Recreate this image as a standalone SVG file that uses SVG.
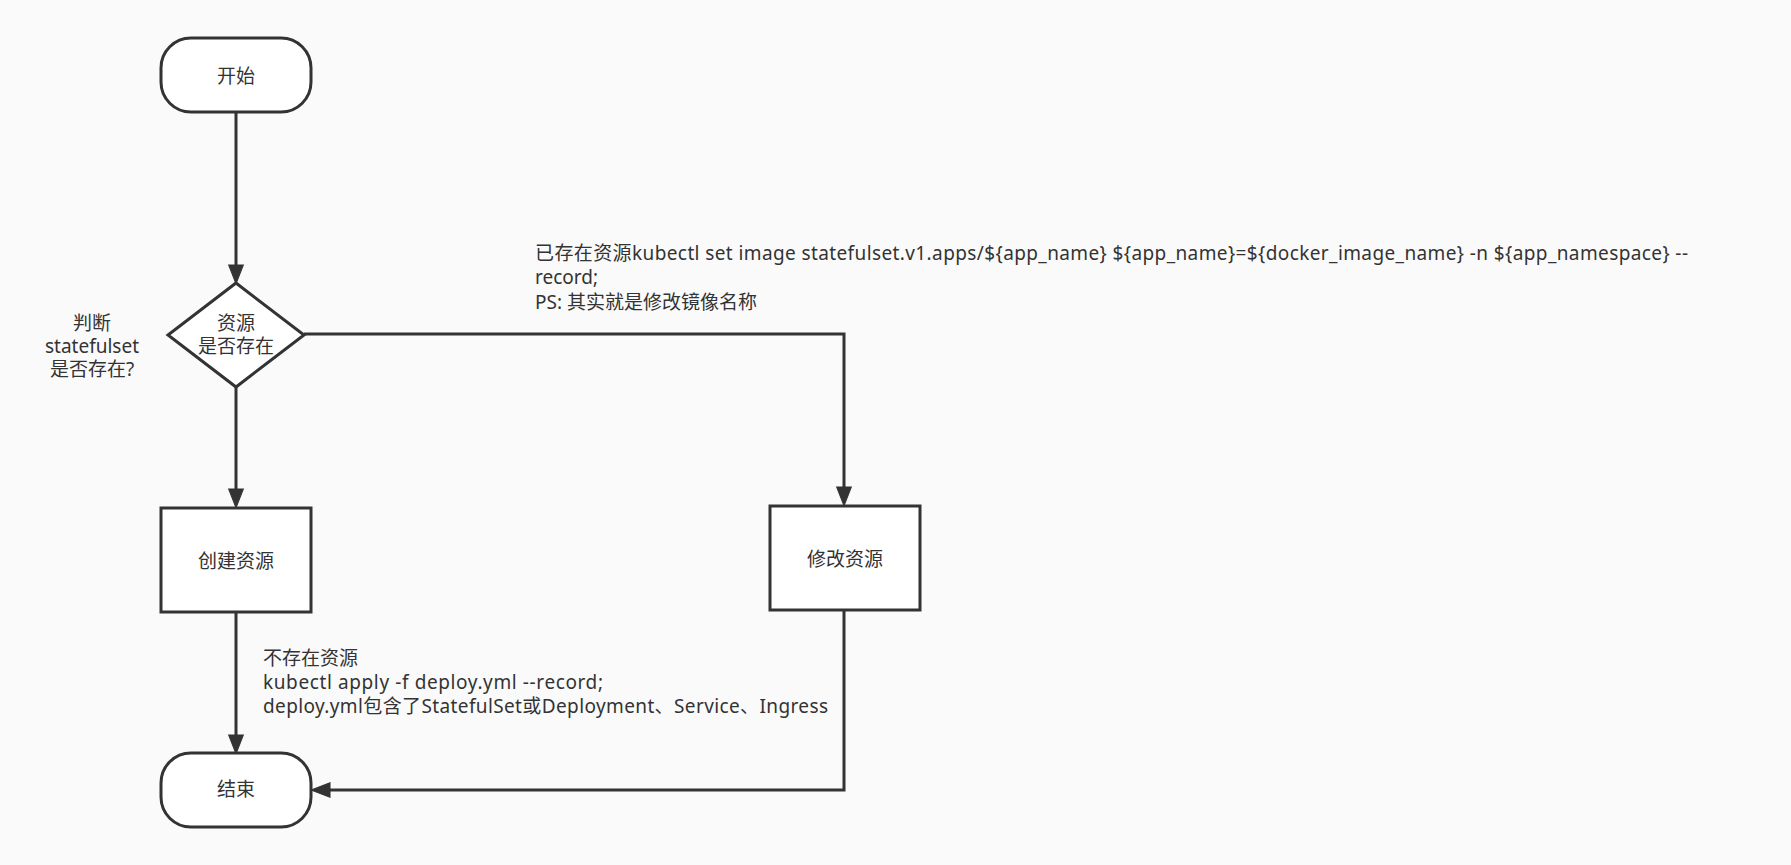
<svg xmlns="http://www.w3.org/2000/svg" width="1791" height="865" viewBox="0 0 1791 865">
<style>
.bg{fill:#fafafa}
.node{fill:#ffffff;stroke:#333333;stroke-width:3}
.edge{fill:none;stroke:#333333;stroke-width:3}
.lbl{font-family:"Noto Sans","Noto Sans CJK SC",sans-serif;font-size:19px;fill:#333333}
.c{text-anchor:middle;dominant-baseline:central}
.l{dominant-baseline:central}
</style>
<defs>
<marker id="arr" markerUnits="userSpaceOnUse" markerWidth="22" markerHeight="18" viewBox="-1 -8 21 16" refX="0" refY="0" orient="auto">
<path d="M0,-7 L18,0 L0,7 Z" fill="#333333" stroke="#333333" stroke-width="1"/>
</marker>
</defs>
<rect class="bg" x="0" y="0" width="1791" height="865"/>
<g id="edges">
<path class="edge" d="M236,112 L236,265" marker-end="url(#arr)"/>
<path class="edge" d="M236,387 L236,489" marker-end="url(#arr)"/>
<path class="edge" d="M304,334 L844,334 L844,487" marker-end="url(#arr)"/>
<path class="edge" d="M236,613 L236,735" marker-end="url(#arr)"/>
<path class="edge" d="M844,611 L844,790 L330,790" marker-end="url(#arr)"/>
</g>
<g id="start">
<rect class="node" x="161" y="38" width="150" height="74" rx="30" ry="30"/>
<text class="lbl c" x="236" y="76">开始</text>
</g>
<g id="decision">
<polygon class="node" points="236,283 304,335 236,387 168,335"/>
<text class="lbl c" x="236" y="323">资源</text>
<text class="lbl c" x="236" y="346">是否存在</text>
</g>
<g id="decision-note">
<text class="lbl c" x="92" y="323">判断</text>
<text class="lbl c" x="92" y="346">statefulset</text>
<text class="lbl c" x="92" y="369">是否存在?</text>
</g>
<g id="create">
<rect class="node" x="161" y="508" width="150" height="104"/>
<text class="lbl c" x="236" y="561">创建资源</text>
</g>
<g id="modify">
<rect class="node" x="770" y="506" width="150" height="104"/>
<text class="lbl c" x="845" y="559">修改资源</text>
</g>
<g id="end">
<rect class="node" x="161" y="753" width="150" height="74" rx="30" ry="30"/>
<text class="lbl c" x="236" y="789">结束</text>
</g>
<g id="label-exists">
<text class="lbl l" x="535" y="253" textLength="1153" lengthAdjust="spacing">已存在资源kubectl set image statefulset.v1.apps/${app_name} ${app_name}=${docker_image_name} -n ${app_namespace} --</text>
<text class="lbl l" x="535" y="277">record;</text>
<text class="lbl l" x="535" y="302">PS: 其实就是修改镜像名称</text>
</g>
<g id="label-notexists">
<text class="lbl l" x="263" y="658">不存在资源</text>
<text class="lbl l" x="263" y="682" textLength="340" lengthAdjust="spacing">kubectl apply -f deploy.yml --record;</text>
<text class="lbl l" x="263" y="706" textLength="565" lengthAdjust="spacing">deploy.yml包含了StatefulSet或Deployment、Service、Ingress</text>
</g>
</svg>
